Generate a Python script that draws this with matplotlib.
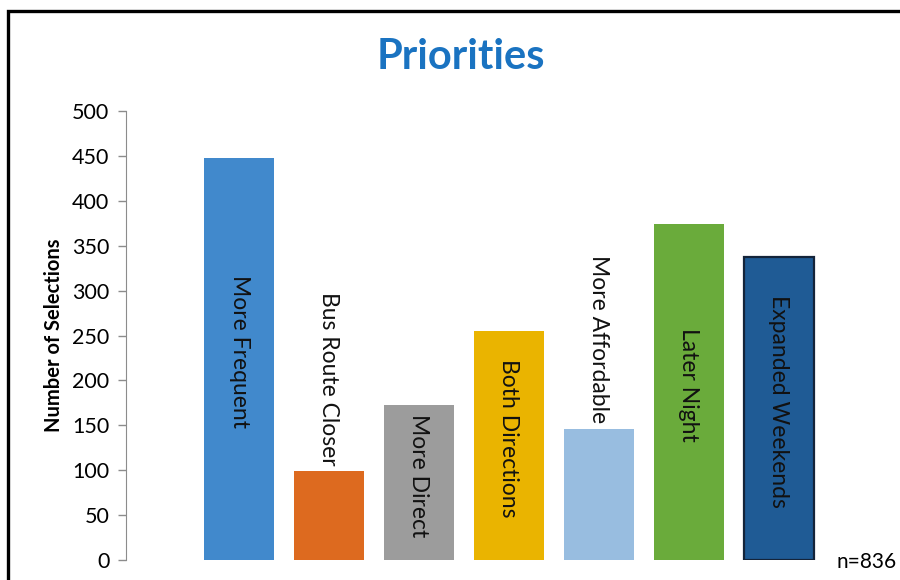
import matplotlib.pyplot as plt
from matplotlib.patches import Rectangle

plt.rcParams['font.family'] = ['Lato', 'DejaVu Sans']

categories = ['More Frequent', 'Bus Route Closer', 'More Direct', 'Both Directions',
              'More Affordable', 'Later Night', 'Expanded Weekends']
selections = [448, 99, 173, 255, 146, 374, 337]
colors = ['#4189cc', '#dd6a1f', '#9c9c9c', '#eab400', '#98bde0', '#6aab3b', '#1f5b95']
edges = ['none', 'none', 'none', 'none', 'none', 'none', '#14243a']
# short bars get their label above the bar instead of inside
label_above = [False, True, False, False, True, False, False]
yticks = [0, 50, 100, 150, 200, 250, 300, 350, 400, 450, 500]

fig = plt.figure(figsize=(9, 5.8), dpi=100)
ax = fig.add_axes([0.14, 0.0345, 0.851, 0.774])

x = list(range(len(categories)))
ax.bar(x, selections, width=0.78, color=colors, edgecolor=edges, linewidth=1.6)

for i, (name, v) in enumerate(zip(categories, selections)):
    if label_above[i]:
        ax.text(i, v + 6, name, rotation=270, ha='center', va='bottom',
                fontsize=16.5, color='#111111')
    else:
        ax.text(i, v / 2 + 8, name, rotation=270, ha='center', va='center',
                fontsize=16.5, color='#111111')

ax.set_xlim(-1.256, 7.256)
ax.set_ylim(0, 500)
ax.set_yticks(yticks)
ax.set_xticks([])
ax.tick_params(axis='y', direction='out', length=6, width=1, color='#8c8c8c',
               labelsize=15.5, pad=6)
for s in ['top', 'right', 'bottom']:
    ax.spines[s].set_visible(False)
ax.spines['left'].set_color('#8c8c8c')
ax.set_ylabel('Number of Selections', fontsize=14.5, fontweight='bold', labelpad=6)

fig.text(0.512, 0.902, 'Priorities', ha='center', va='center', fontsize=30,
         fontweight='bold', color='#1a73c1')
fig.text(0.93, 0.031, 'n=836', ha='left', va='center', fontsize=15)

# outer frame, open at the right and bottom
fig.patches.append(Rectangle((0.009, -0.1), 1.2, 1.081, transform=fig.transFigure,
                             fill=False, edgecolor='black', linewidth=2.4))

fig.savefig('out.png', dpi=100)
